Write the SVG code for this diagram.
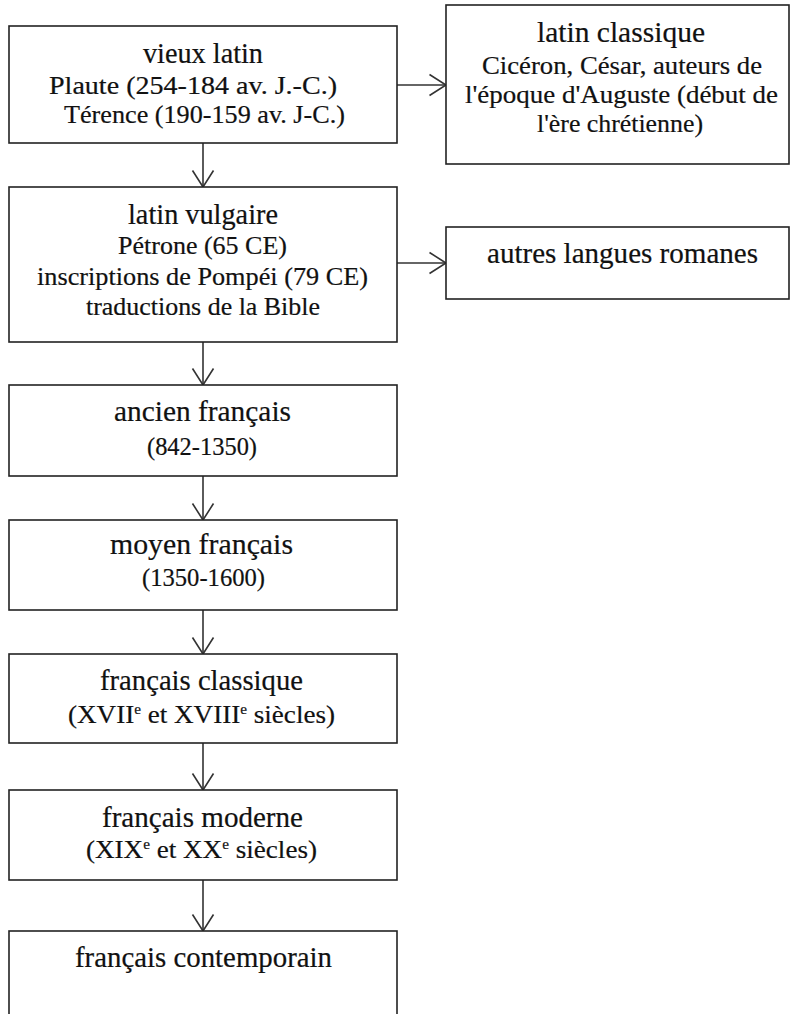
<svg xmlns="http://www.w3.org/2000/svg" width="790" height="1014" viewBox="0 0 790 1014">
<style>
text { font-family: "Liberation Serif", "Times New Roman", serif; fill: #111; stroke: #111; stroke-width: 0.2; }
.t { font-size: 28.5px; }
.s { font-size: 25px; }
.sup { font-size: 14px; }
rect.box { fill: #fff; stroke: #222; stroke-width: 1.6; }
.conn line { stroke: #333; stroke-width: 1.6; fill: none; }
</style>
<defs>
<marker id="arr" markerUnits="userSpaceOnUse" viewBox="0 0 19 24" refX="17.5" refY="12" markerWidth="19" markerHeight="24" orient="auto">
<path d="M1,1.5 L17.5,12 L1,22.5" fill="none" stroke="#333" stroke-width="1.6"/>
</marker>
</defs>
<rect width="790" height="1014" fill="#fff"/>
<g class="conn" id="connectors">
<line x1="397" y1="85" x2="446" y2="85" marker-end="url(#arr)"/>
<line x1="397" y1="263" x2="446" y2="263" marker-end="url(#arr)"/>
<line x1="203" y1="143" x2="203" y2="187" marker-end="url(#arr)"/>
<line x1="203" y1="342" x2="203" y2="385" marker-end="url(#arr)"/>
<line x1="203" y1="476" x2="203" y2="520" marker-end="url(#arr)"/>
<line x1="203" y1="610" x2="203" y2="654" marker-end="url(#arr)"/>
<line x1="203" y1="743" x2="203" y2="790" marker-end="url(#arr)"/>
<line x1="203" y1="880" x2="203" y2="931" marker-end="url(#arr)"/>
</g>
<g id="vieux-latin">
<rect class="box" x="9" y="26" width="388" height="117"/>
<text class="t" x="143" y="63" textLength="120" lengthAdjust="spacingAndGlyphs">vieux latin</text>
<text class="s" x="49" y="94" textLength="288" lengthAdjust="spacingAndGlyphs">Plaute (254-184  av. J.-C.)</text>
<text class="s" x="64" y="123" textLength="281" lengthAdjust="spacingAndGlyphs">Térence (190-159  av. J-C.)</text>
</g>
<g id="latin-classique">
<rect class="box" x="446" y="5" width="343" height="159"/>
<text class="t" x="537" y="42" textLength="168" lengthAdjust="spacingAndGlyphs">latin classique</text>
<text class="s" x="482" y="74" textLength="280" lengthAdjust="spacingAndGlyphs">Cicéron, César, auteurs de</text>
<text class="s" x="465" y="103" textLength="313" lengthAdjust="spacingAndGlyphs">l'époque d'Auguste (début de</text>
<text class="s" x="537" y="132" textLength="166" lengthAdjust="spacingAndGlyphs">l'ère chrétienne)</text>
</g>
<g id="latin-vulgaire">
<rect class="box" x="9" y="187" width="388" height="155"/>
<text class="t" x="128" y="224" textLength="150" lengthAdjust="spacingAndGlyphs">latin vulgaire</text>
<text class="s" x="118" y="254" textLength="169" lengthAdjust="spacingAndGlyphs">Pétrone (65 CE)</text>
<text class="s" x="37" y="285" textLength="331" lengthAdjust="spacingAndGlyphs">inscriptions de Pompéi (79 CE)</text>
<text class="s" x="86" y="315" textLength="234" lengthAdjust="spacingAndGlyphs">traductions de la Bible</text>
</g>
<g id="autres-langues">
<rect class="box" x="446" y="227" width="343" height="72"/>
<text class="t" x="487" y="263" textLength="271" lengthAdjust="spacingAndGlyphs">autres langues romanes</text>
</g>
<g id="ancien-francais">
<rect class="box" x="9" y="385" width="388" height="91"/>
<text class="t" x="114" y="421" textLength="177" lengthAdjust="spacingAndGlyphs">ancien français</text>
<text class="s" x="147" y="455" textLength="110" lengthAdjust="spacingAndGlyphs">(842-1350)</text>
</g>
<g id="moyen-francais">
<rect class="box" x="9" y="520" width="388" height="90"/>
<text class="t" x="110" y="554" textLength="183" lengthAdjust="spacingAndGlyphs">moyen français</text>
<text class="s" x="142" y="586" textLength="123" lengthAdjust="spacingAndGlyphs">(1350-1600)</text>
</g>
<g id="francais-classique">
<rect class="box" x="9" y="654" width="388" height="89"/>
<text class="t" x="100" y="690" textLength="203" lengthAdjust="spacingAndGlyphs">français classique</text>
<text class="s" x="68" y="723" textLength="267" lengthAdjust="spacingAndGlyphs">(XVII<tspan class="sup" dy="-9">e</tspan><tspan dy="9">  et XVIII</tspan><tspan class="sup" dy="-9">e</tspan><tspan dy="9">  siècles)</tspan></text>
</g>
<g id="francais-moderne">
<rect class="box" x="9" y="790" width="388" height="90"/>
<text class="t" x="102" y="827" textLength="201" lengthAdjust="spacingAndGlyphs">français moderne</text>
<text class="s" x="86" y="858" textLength="231" lengthAdjust="spacingAndGlyphs">(XIX<tspan class="sup" dy="-9">e</tspan><tspan dy="9">  et XX</tspan><tspan class="sup" dy="-9">e</tspan><tspan dy="9">  siècles)</tspan></text>
</g>
<g id="francais-contemporain">
<rect class="box" x="9" y="931" width="388" height="100"/>
<text class="t" x="75" y="967" textLength="257" lengthAdjust="spacingAndGlyphs">français contemporain</text>
</g>
</svg>
